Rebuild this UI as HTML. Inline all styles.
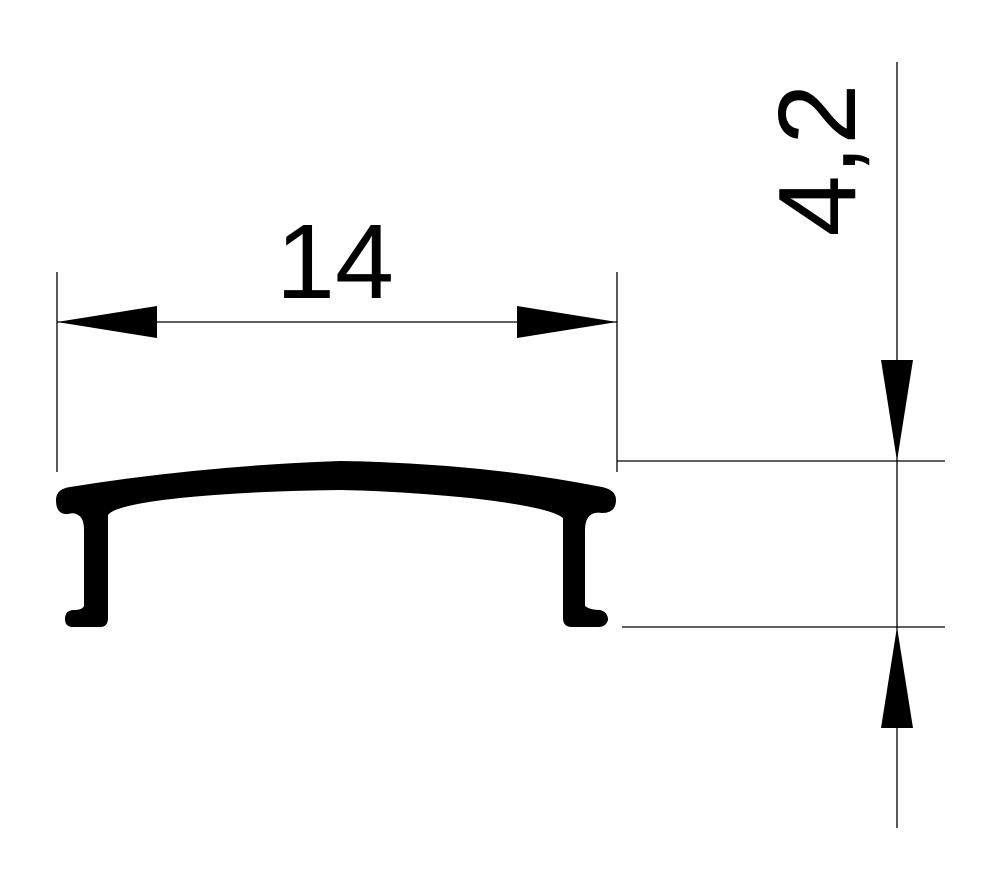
<!DOCTYPE html>
<html><head><style>
html,body{margin:0;padding:0;background:#fff;}
svg{display:block;}
text{font-family:"Liberation Sans",Arial,sans-serif;}
</style></head><body>
<svg width="993" height="877" viewBox="0 0 993 877" xmlns="http://www.w3.org/2000/svg">
<g stroke="#000" stroke-width="1.3" fill="none">
<line x1="57" y1="272" x2="57" y2="472"/>
<line x1="617" y1="272" x2="617" y2="472"/>
<line x1="57" y1="322" x2="617" y2="322"/>
<line x1="617" y1="461" x2="945" y2="461"/>
<line x1="622" y1="627" x2="945" y2="627"/>
<line x1="897" y1="62" x2="897" y2="828"/>
</g>
<g fill="#000">
<polygon points="57,322 157,306 157,338"/>
<polygon points="617,322 517,306 517,338"/>
<polygon points="897,461 881,360 913,360"/>
<polygon points="897,627 881,728 913,728"/>
</g>
<text x="335" y="298" font-size="106" text-anchor="middle">14</text>
<text transform="translate(855,160) rotate(-90)" font-size="110" text-anchor="middle">4,2</text>
<path fill="#000" d="M70,487 Q200,466 340,461 Q480,463 602,487 Q616,490 616,500 Q616,513 602,513 Q596,512 592,514 Q585,518 585,530 L585,606 Q590,610 600,610 Q608,612 608,620 Q606,627 598,627 L572,627 Q563,627 563,618 L563,518 Q550,507 470,498 Q400,491 340,490 Q250,491 180,498 Q115,505 108,515 L108,618 Q108,627 100,627 L73,627 Q65,627 65,619 Q65,610 74,610 Q82,610 84,606 L84,530 Q84,518 78,515 Q74,512 68,514 Q56,515 56,500 Q56,489 70,487 Z"/>
</svg>
</body></html>
